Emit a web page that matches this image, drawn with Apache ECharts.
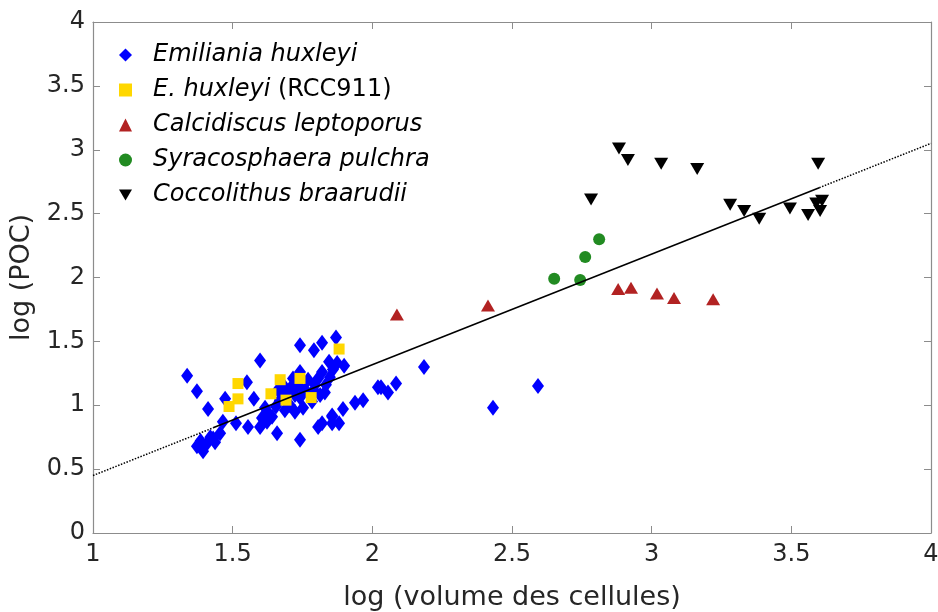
<!DOCTYPE html>
<html>
<head>
<meta charset="utf-8">
<script src="https://cdn.jsdelivr.net/npm/echarts@6/dist/echarts.min.js"></script>
<style>
  html, body { margin: 0; padding: 0; background: #fff; }
  #chart { width: 938px; height: 612px; }
</style>
</head>
<body>
<div id="chart"></div>
<script>
// ---- Data ----
const seriesNames = ['Emiliania huxleyi', 'E. huxleyi (RCC911)', 'Calcidiscus leptoporus', 'Syracosphaera pulchra', 'Coccolithus braarudii'];

const emilianiaHuxleyi = [
  [1.337,1.23],[1.372,1.11],[1.412,0.97],[1.598,1.35],[1.551,1.18],[1.473,1.05],[1.576,1.05],
  [1.512,0.86],[1.555,0.83],[1.465,0.87],
  [1.372,0.68],[1.394,0.64],[1.408,0.70],[1.430,0.74],[1.455,0.78],[1.437,0.71],[1.385,0.72],[1.420,0.75],
  [1.605,0.90],[1.598,0.83],[1.623,0.87],[1.641,0.91],[1.659,0.78],[1.662,1.12],
  [1.741,1.47],[1.791,1.43],[1.820,1.49],[1.870,1.53],[1.845,1.34],[1.874,1.33],[1.899,1.31],[1.741,1.26],
  [1.741,0.73],[1.806,0.83],[1.856,0.91],[1.856,0.86],[1.895,0.97],[1.938,1.02],[1.967,1.04],[2.020,1.14],
  [2.031,1.14],[2.056,1.10],[2.085,1.17],[2.185,1.30],[2.432,0.98],[2.593,1.15],
  [1.669,1.04],[1.687,1.08],[1.705,1.13],[1.705,1.00],[1.723,1.08],[1.734,1.16],[1.741,1.06],[1.752,0.98],
  [1.759,1.12],[1.770,1.20],[1.777,1.08],[1.784,1.03],[1.795,1.16],[1.806,1.21],[1.813,1.08],[1.820,1.26],
  [1.834,1.16],[1.848,1.22],[1.859,1.28],[1.687,0.96],[1.655,0.99],[1.723,0.95],[1.616,0.98],[1.634,0.92],
  [1.820,0.86],[1.881,0.86],[1.856,0.92],[1.680,1.16],[1.716,1.21],[1.790,1.12],[1.830,1.10]
];

const huxleyiRCC911 = [
  [1.519,1.17],[1.519,1.05],[1.487,0.99],[1.670,1.20],[1.741,1.21],[1.637,1.09],[1.691,1.04],[1.781,1.06],[1.881,1.44]
];

const calcidiscusLeptoporus = [
  [2.088,1.71],[2.414,1.78],[2.880,1.91],[2.926,1.92],[3.019,1.875],[3.080,1.84],[3.220,1.83]
];

const syracosphaeraPulchra = [
  [2.651,1.99],[2.744,1.98],[2.762,2.16],[2.812,2.30]
];

const coccolithusBraarudii = [
  [2.883,3.01],[2.915,2.92],[3.034,2.89],[3.163,2.85],[2.783,2.61],[3.281,2.57],[3.331,2.52],
  [3.385,2.46],[3.495,2.54],[3.560,2.49],[3.596,2.89],[3.610,2.60],[3.589,2.58],[3.603,2.52]
];

// regression line: dotted extrapolation, solid over data range
const fitDottedLow = [[1.0,0.45],[1.43,0.823]];
const fitSolid = [[1.43,0.823],[3.60,2.703]];
const fitDottedHigh = [[3.60,2.703],[4.0,3.05]];

const xTicks = [1, 1.5, 2, 2.5, 3, 3.5, 4];
const yTicks = [0, 0.5, 1, 1.5, 2, 2.5, 3, 3.5, 4];

// ---- Chart ----
const FONT = 'DejaVu Sans, Liberation Sans, Arial, sans-serif';
const chart = echarts.init(document.getElementById('chart'), null, { renderer: 'canvas' });

const axisLineColor = '#8c8c8c';
const labelColor = '#262626';

function fmt(v) { return String(v); }

const legendData = [
  { name: seriesNames[0], icon: 'diamond' },
  { name: seriesNames[1], icon: 'rect' },
  { name: seriesNames[2], icon: 'triangle' },
  { name: seriesNames[3], icon: 'circle' },
  { name: seriesNames[4], icon: 'path://M0,0L14,0L7,12Z' }
];

const option = {
  animation: false,
  backgroundColor: '#ffffff',
  textStyle: { fontFamily: FONT },
  grid: { left: 93, right: 7, top: 22, bottom: 79, containLabel: false, outerBoundsMode: 'none' },
  legend: {
    orient: 'vertical',
    left: 114,
    top: 36,
    itemGap: 7,
    itemWidth: 13,
    itemHeight: 13,
    data: legendData,
    textStyle: {
      fontFamily: FONT,
      fontSize: 24,
      color: '#000',
      lineHeight: 28,
      padding: [0, 0, 0, 16],
      rich: {
        i: { fontFamily: FONT, fontSize: 24, fontStyle: 'italic', color: '#000', lineHeight: 28 },
        n: { fontFamily: FONT, fontSize: 24, fontStyle: 'normal', color: '#000', lineHeight: 28 }
      }
    },
    formatter: function (name) {
      if (name === 'E. huxleyi (RCC911)') return '{i|E. huxleyi}{n| (RCC911)}';
      return '{i|' + name + '}';
    }
  },
  xAxis: [
    {
      type: 'value', min: 1, max: 4, interval: 0.5, position: 'bottom',
      name: 'log (volume des cellules)', nameLocation: 'middle', nameGap: 51,
      nameTextStyle: { fontFamily: FONT, fontSize: 27, color: labelColor },
      axisLine: { show: true, onZero: false, lineStyle: { color: axisLineColor, width: 1.2 } },
      axisTick: { show: true, inside: true, length: 7, lineStyle: { color: axisLineColor } },
      axisLabel: { fontFamily: FONT, fontSize: 24, color: labelColor, margin: 10, formatter: fmt },
      splitLine: { show: false }
    },
    {
      type: 'value', min: 1, max: 4, interval: 0.5, position: 'top',
      axisLine: { show: true, onZero: false, lineStyle: { color: axisLineColor, width: 1.2 } },
      axisTick: { show: true, inside: true, length: 7, lineStyle: { color: axisLineColor } },
      axisLabel: { show: false },
      splitLine: { show: false }
    }
  ],
  yAxis: [
    {
      type: 'value', min: 0, max: 4, interval: 0.5, position: 'left',
      name: 'log (POC)', nameLocation: 'middle', nameGap: 43, nameRotate: 90,
      nameTextStyle: { fontFamily: FONT, fontSize: 27, color: labelColor },
      axisLine: { show: true, onZero: false, lineStyle: { color: axisLineColor, width: 1.2 } },
      axisTick: { show: true, inside: true, length: 7, lineStyle: { color: axisLineColor } },
      axisLabel: { fontFamily: FONT, fontSize: 24, color: labelColor, margin: 8, formatter: fmt },
      splitLine: { show: false }
    },
    {
      type: 'value', min: 0, max: 4, interval: 0.5, position: 'right',
      axisLine: { show: true, onZero: false, lineStyle: { color: axisLineColor, width: 1.2 } },
      axisTick: { show: true, inside: true, length: 7, lineStyle: { color: axisLineColor } },
      axisLabel: { show: false },
      splitLine: { show: false }
    }
  ],
  series: [
    {
      name: seriesNames[0], type: 'scatter', data: emilianiaHuxleyi,
      symbol: 'diamond', symbolSize: [12, 16],
      itemStyle: { color: '#0000ff', opacity: 1 }, z: 3
    },
    {
      name: seriesNames[1], type: 'scatter', data: huxleyiRCC911,
      symbol: 'rect', symbolSize: [11, 11],
      itemStyle: { color: '#ffd700', opacity: 1, borderRadius: 1 }, z: 4
    },
    {
      name: seriesNames[2], type: 'scatter', data: calcidiscusLeptoporus,
      symbol: 'triangle', symbolSize: [14, 12],
      itemStyle: { color: '#b22222', opacity: 1 }, z: 3
    },
    {
      name: seriesNames[3], type: 'scatter', data: syracosphaeraPulchra,
      symbol: 'circle', symbolSize: 12,
      itemStyle: { color: '#228b22', opacity: 1 }, z: 3
    },
    {
      name: seriesNames[4], type: 'scatter', data: coccolithusBraarudii,
      symbol: 'triangle', symbolSize: [14, 12], symbolRotate: 180,
      itemStyle: { color: '#000000', opacity: 1 }, z: 3
    },
    {
      name: 'fitLow', type: 'line', data: fitDottedLow, symbol: 'none', silent: true,
      lineStyle: { color: '#000', width: 1.5, type: [1.5, 1.5] }, z: 6
    },
    {
      name: 'fitMid', type: 'line', data: fitSolid, symbol: 'none', silent: true,
      lineStyle: { color: '#000', width: 1.6, type: 'solid' }, z: 6
    },
    {
      name: 'fitHigh', type: 'line', data: fitDottedHigh, symbol: 'none', silent: true,
      lineStyle: { color: '#000', width: 1.5, type: [1.5, 1.5] }, z: 6
    }
  ]
};

chart.setOption(option);
</script>
</body>
</html>
